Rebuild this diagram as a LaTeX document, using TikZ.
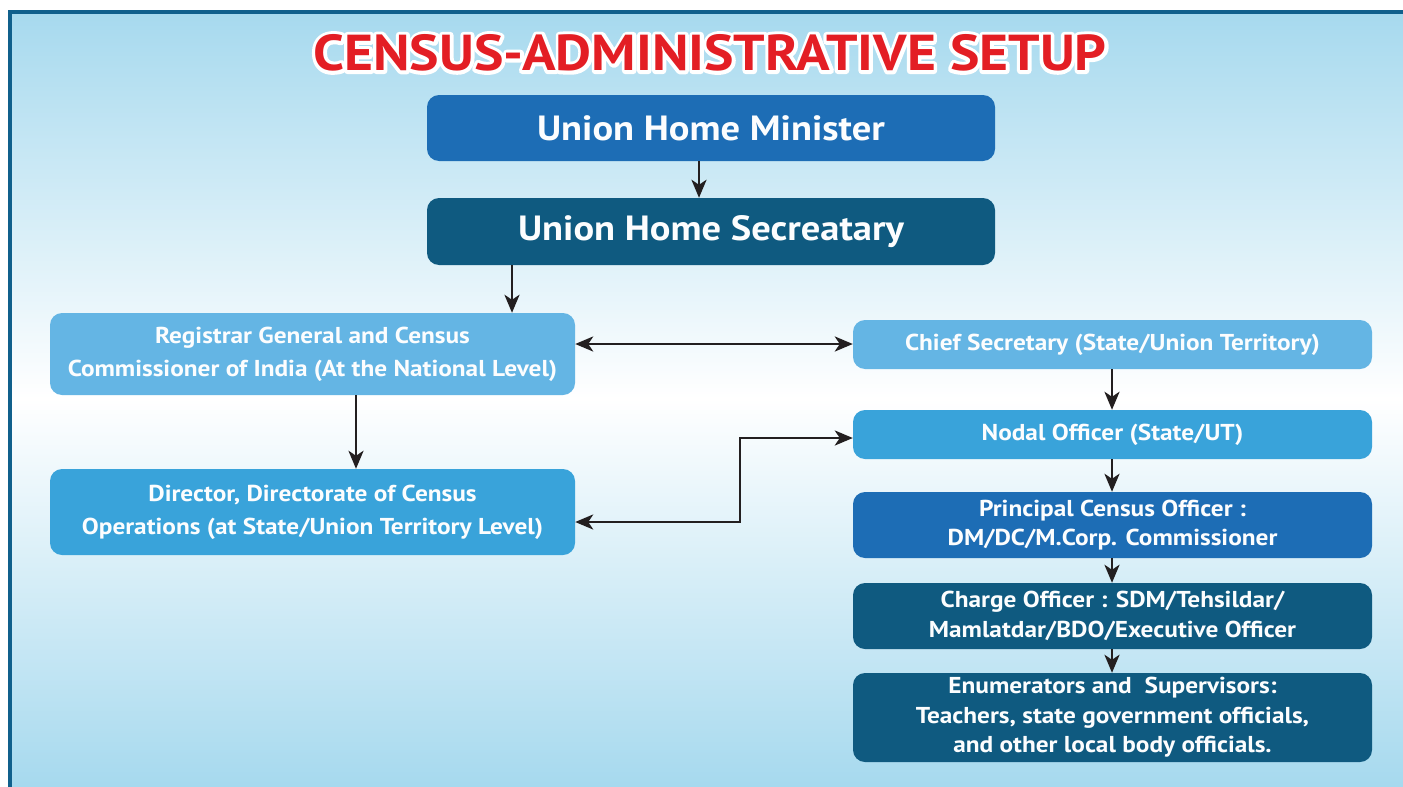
\documentclass[tikz,border=0pt]{standalone}
\usepackage{fontspec}
\setmainfont{PT Sans}
\newfontfamily\boxfont{PT Sans}[FakeStretch=1.1]
\usetikzlibrary{arrows.meta,calc}

\definecolor{bgblue}{HTML}{A6D9EE}
\definecolor{frameblue}{HTML}{10608C}
\definecolor{midblue}{HTML}{1D6DB5}
\definecolor{darkteal}{HTML}{0F5A80}
\definecolor{lightblue}{HTML}{64B5E4}
\definecolor{skyblue}{HTML}{39A3DA}
\definecolor{titlered}{HTML}{E31E24}
\definecolor{arrowc}{HTML}{231F20}
\definecolor{boxtext}{HTML}{FCFDFE}

% stroked (outlined) text through the PDF text render mode
\newcommand{\strokedtext}[2]{%
  \special{pdf:literal direct 2 Tr #1 w 1 j}#2\special{pdf:literal direct 0 Tr 1 w 0 j}}

\tikzset{
  box/.style={rectangle, rounded corners=12pt, draw=none, text=boxtext,
    font=\boxfont\bfseries\fontsize{23}{29.5}\selectfont, align=center, inner sep=0pt},
  widebox/.style={box, font=\boxfont\bfseries\fontsize{23}{33}\selectfont},
  bigbox/.style={box, font=\boxfont\bfseries\fontsize{35}{40}\selectfont},
  titletext/.style={font=\boxfont\bfseries\fontsize{50.5}{58}\selectfont, inner sep=0pt},
  tip/.tip={Stealth[length=18pt,width=15pt,inset=5pt]},
  conn/.style={draw=arrowc, line width=2.7pt, -tip},
  biconn/.style={draw=arrowc, line width=2.7pt, tip-tip},
}

\begin{document}
\begin{tikzpicture}[x=1pt,y=-1pt]
\useasboundingbox (0,0) rectangle (1403,787);
% page background and frame
\fill[white] (0,0) rectangle (1403,787);
\fill[top color=bgblue, bottom color=bgblue, middle color=white] (8,10) rectangle (1403,787);
\fill[frameblue] (8,10) rectangle (1403,14);
\fill[frameblue] (8,10) rectangle (12,787);

% title: white halo under the red letters
\node[titletext, text=white] (titlehalo) at (710,53) {\strokedtext{7}{CENSUS-ADMINISTRATIVE SETUP}};
\node[titletext, text=titlered] (title) at (710,53) {CENSUS-ADMINISTRATIVE SETUP};

% boxes
\node[bigbox, fill=midblue, minimum width=568pt, minimum height=66pt] (minister) at (711,128) {Union Home Minister};
\node[bigbox, fill=darkteal, minimum width=568pt, minimum height=67pt] (secretary) at (711,231.5) {Union Home Secreatary};
\node[widebox, fill=lightblue, minimum width=525pt, minimum height=82pt] (registrar) at (312.5,354)
  {Registrar General and Census\\Commissioner of India (At the National Level)};
\node[widebox, fill=skyblue, minimum width=525pt, minimum height=86pt] (director) at (312.5,512)
  {Director, Directorate of Census\\Operations (at State/Union Territory Level)};
\node[box, fill=lightblue, minimum width=519pt, minimum height=49pt] (chief) at (1112.5,344.5)
  {Chief Secretary (State/Union Territory)};
\node[box, fill=skyblue, minimum width=519pt, minimum height=49pt] (nodal) at (1112.5,434.5)
  {Nodal Officer (State/UT)};
\node[box, fill=midblue, minimum width=519pt, minimum height=66pt] (principal) at (1112.5,525)
  {Principal Census Officer :\\DM/DC/M.Corp. Commissioner};
\node[box, fill=darkteal, minimum width=519pt, minimum height=66pt] (charge) at (1112.5,616)
  {Charge Officer : SDM/Tehsildar/\\Mamlatdar/BDO/Executive Officer};
\node[box, fill=darkteal, minimum width=519pt, minimum height=89pt] (enum) at (1112.5,717.5)
  {Enumerators and\ \ Supervisors:\\Teachers, state government officials,\\and other local body officials.};

% connector guide coordinates
\coordinate (xa) at (699,0);
\coordinate (xb) at (512,0);
\coordinate (xc) at (356,0);
\coordinate (xd) at (1112,0);
\coordinate (ya) at (0,344);
\coordinate (yb) at (0,522);
\coordinate (yc) at (0,438);
\coordinate (bend1) at (740,522);
\coordinate (bend2) at (740,438);

% connectors
\draw[conn] (xa |- minister.south) -- (xa |- secretary.north);
\draw[conn] (xb |- secretary.south) -- (xb |- registrar.north);
\draw[biconn] (registrar.east |- ya) -- (chief.west |- ya);
\draw[conn] (xc |- registrar.south) -- (xc |- director.north);
\draw[conn] (xd |- chief.south) -- (xd |- nodal.north);
\draw[conn] (xd |- nodal.south) -- (xd |- principal.north);
\draw[conn] (xd |- principal.south) -- (xd |- charge.north);
\draw[conn] (xd |- charge.south) -- (xd |- enum.north);
\draw[biconn] (director.east |- yb) -- (bend1) -- (bend2) -- (nodal.west |- yc);
\end{tikzpicture}
\end{document}
